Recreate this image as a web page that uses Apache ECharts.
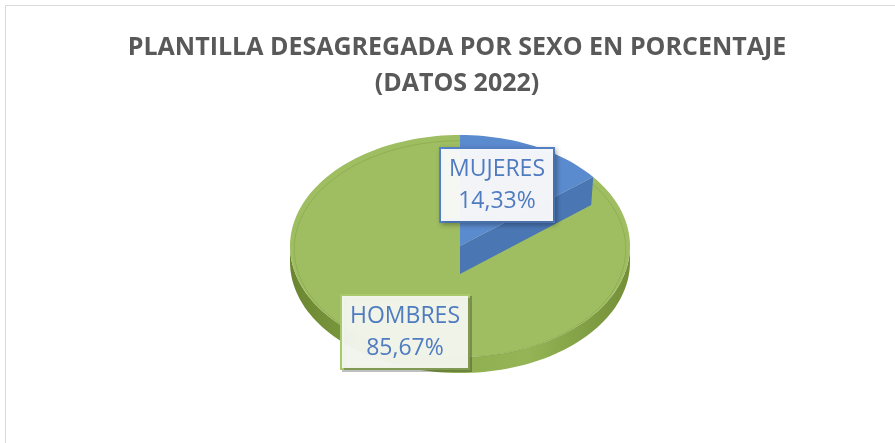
<!DOCTYPE html>
<html lang="es">
<head>
    <meta charset="UTF-8">
    <title>Plantilla por sexo</title>
    <script src="https://cdn.jsdelivr.net/npm/echarts@6/dist/echarts.min.js"></script>
    <style>
        html, body { margin: 0; padding: 0; background: #fff; }
        #main { width: 895px; height: 443px; }
    </style>
</head>
<body>
    <div id="main"></div>
    <script>
        // datos del gráfico
        var categories = ['MUJERES', 'HOMBRES'];
        var values = [14.33, 85.67];
        var titleLines = ['PLANTILLA DESAGREGADA POR SEXO EN PORCENTAJE', '(DATOS 2022)'];

        var myChart = echarts.init(document.getElementById('main'));

        // geometría de la tarta "3D" (elipse)
        var cx = 460, cy = 246, rx = 170, ry = 111, depth = 16;
        var topColors = ['#5b8bcf', '#9fbe62'];
        var wallColors = ['#4a76b3', '#8cab4c'];
        var labelPos = [[497, 185], [405, 332]];
        var labelBorder = ['#5584c9', '#a9c96f'];
        var labelBg = ['rgba(255,255,255,0.93)', 'rgba(244,247,238,0.96)'];

        var total = values.reduce(function (a, b) { return a + b; }, 0);

        function pt(a, dy, k) {
            // a en grados, desde las 12 en sentido horario
            var r = a * Math.PI / 180;
            k = k || 1;
            return [cx + rx * k * Math.sin(r), cy - ry * k * Math.cos(r) + (dy || 0)];
        }

        function arc(a0, a1, dy, k) {
            var pts = [];
            var n = Math.max(2, Math.ceil((a1 - a0) / 2));
            for (var i = 0; i <= n; i++) {
                pts.push(pt(a0 + (a1 - a0) * i / n, dy, k));
            }
            return pts;
        }

        function renderItem(params, api) {
            var idx = params.dataIndex;
            var before = 0;
            for (var i = 0; i < idx; i++) before += values[i];
            var a0 = before / total * 360;
            var a1 = (before + api.value(0)) / total * 360;
            var children = [];

            // pared lateral (mitad delantera)
            var s = Math.max(a0, 90), e = Math.min(a1, 270);
            if (e > s) {
                var upper = arc(s, e, 0);
                var lower = arc(s, e, depth).reverse();
                children.push({
                    type: 'polygon',
                    z2: 1,
                    shape: { points: upper.concat(lower) },
                    style: {
                        fill: new echarts.graphic.LinearGradient(0, 0, 1, 0, [
                            { offset: 0, color: '#6a8530' },
                            { offset: 0.35, color: wallColors[idx] },
                            { offset: 0.7, color: '#94b455' },
                            { offset: 1, color: '#738f38' }
                        ])
                    }
                });
            }

            // cara superior
            children.push({
                type: 'polygon',
                z2: idx === 0 ? 5 : 2,
                shape: { points: [[cx, cy]].concat(arc(a0, a1, 0)) },
                style: { fill: topColors[idx] }
            });

            // borde interior suave
            children.push({
                type: 'polyline',
                z2: 3,
                shape: { points: arc(a0, a1, 3, 0.975) },
                style: { fill: null, stroke: 'rgba(110,140,50,0.3)', lineWidth: 1 },
                silent: true
            });

            // pared radial del sector destacado
            if (idx === 0) {
                var pe = pt(a1, 0);
                var d2 = 28;
                children.push({
                    type: 'polygon',
                    z2: 4,
                    shape: { points: [[cx, cy], pe, [pe[0] - 2, pe[1] + d2], [cx, cy + d2]] },
                    style: { fill: wallColors[0] }
                });
            }

            // etiqueta
            var pct = api.value(0).toFixed(2).replace('.', ',') + '%';
            children.push({
                type: 'text',
                z2: 10,
                x: labelPos[idx][0],
                y: labelPos[idx][1],
                style: {
                    text: categories[idx] + '\n' + pct,
                    align: 'center',
                    verticalAlign: 'middle',
                    fontFamily: 'Open Sans',
                    fontSize: 23,
                    lineHeight: 32,
                    fill: '#4f7bc0',
                    backgroundColor: labelBg[idx],
                    borderColor: labelBorder[idx],
                    borderWidth: 2,
                    padding: [4, 8, 4, 8],
                    shadowBlur: idx === 0 ? 5 : 0,
                    shadowColor: 'rgba(0,0,0,0.25)',
                    shadowOffsetX: 2,
                    shadowOffsetY: 2
                }
            });

            return { type: 'group', children: children };
        }

        var titleStyle = {
            fontFamily: 'Open Sans',
            fontSize: 25,
            fontWeight: 'bold',
            color: '#595959'
        };

        var option = {
            backgroundColor: '#fff',
            animation: false,
            title: titleLines.map(function (t, i) {
                return {
                    text: t,
                    left: 457,
                    textAlign: 'center',
                    top: 35 + i * 36,
                    padding: 0,
                    textStyle: titleStyle
                };
            }),
            graphic: [{
                type: 'rect',
                shape: { x: 5.5, y: 5.5, width: 900, height: 450 },
                style: { fill: null, stroke: '#d9d9d9', lineWidth: 1 },
                silent: true
            }],
            series: [{
                type: 'custom',
                coordinateSystem: 'none',
                renderItem: renderItem,
                data: categories.map(function (c, i) {
                    return { name: c, value: [values[i]] };
                })
            }]
        };

        myChart.setOption(option);
    </script>
</body>
</html>
